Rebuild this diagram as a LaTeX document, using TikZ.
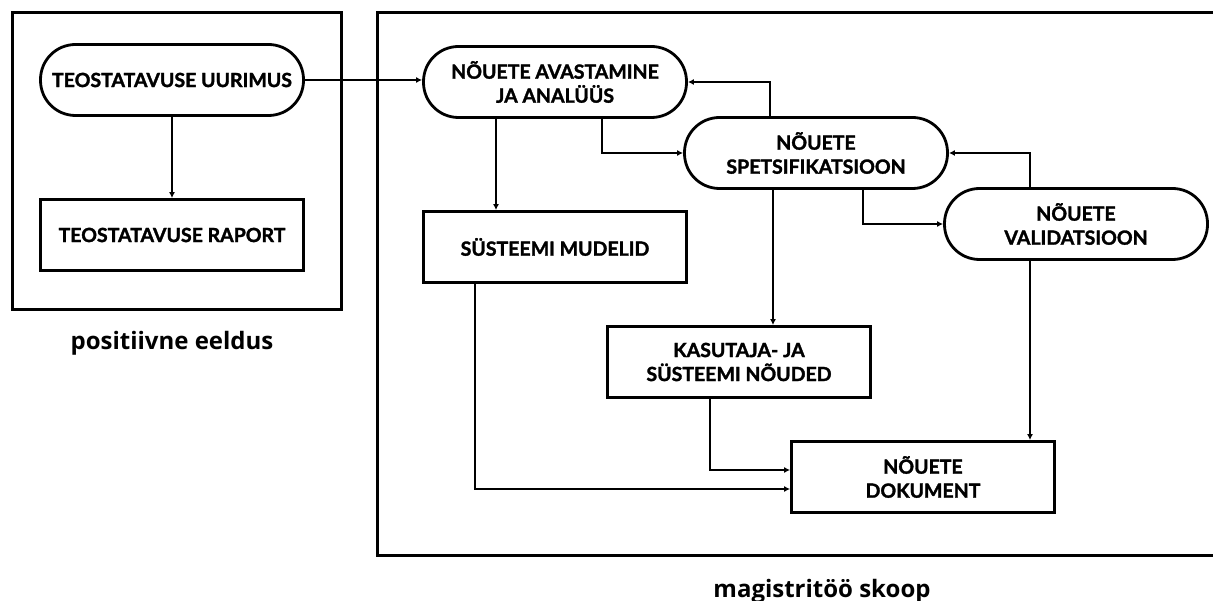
\documentclass[tikz,border=0pt]{standalone}
\usepackage{fontspec}
\usetikzlibrary{arrows.meta}
\newfontfamily\boxfont{Lato}[BoldFeatures={FakeBold=1.6}]
\newfontfamily\lblfont{Open Sans}
\begin{document}
\begin{tikzpicture}[x=1pt,y=-1pt,
  frame/.style={line width=3pt},
  base/.style={draw,line width=2.8pt,inner sep=2pt,align=center,
    font=\boxfont\bfseries\fontsize{19.5}{24}\selectfont},
  pill/.style={base,rounded corners=35pt,minimum width=263pt,minimum height=71pt},
  boxnode/.style={base,minimum width=263pt,minimum height=71pt},
  conn/.style={line width=2.5pt,-{Latex[length=6pt,width=6pt]}},
  caption/.style={font=\lblfont\bfseries\fontsize{24}{28}\selectfont,anchor=base}]
\useasboundingbox (0,0) rectangle (1213,601);
\fill[white] (0,0) rectangle (1213,601);

% group frames
\draw[frame] (12,13) rectangle (341,310);
\draw[frame] (1214,13) -- (377,13) -- (377,555) -- (1214,555);

% feasibility part
\node[pill] (TU) at (172,80) {TEOSTATAVUSE UURIMUS};
\node[boxnode] (TR) at (172,235) {TEOSTATAVUSE RAPORT};

% requirements engineering part
\node[pill] (NA) at (555,82) {NÕUETE AVASTAMINE\\JA ANALÜÜS};
\node[pill] (NS) at (816,153) {NÕUETE\\SPETSIFIKATSIOON};
\node[pill] (NV) at (1076,224) {NÕUETE\\VALIDATSIOON};
\node[boxnode] (SM) at (555,247) {SÜSTEEMI MUDELID};
\node[boxnode] (KS) at (739,362) {KASUTAJA- JA\\SÜSTEEMI NÕUDED};
\node[boxnode] (ND) at (923,477) {NÕUETE\\DOKUMENT};

% captions
\node[caption] (capL) at (172,350) {positiivne eeldus};
\node[caption] (capR) at (822,597) {magistritöö skoop};

% connectors
\draw[conn] (TU.south) -- (TR.north);
\draw[conn] (TU.east) -- (TU.east -| NA.west);
\draw[conn] ([xshift=-59pt]NA.south) -- ([xshift=-59pt]SM.north);
\draw[conn] ([xshift=47pt]NA.south) |- (NS.west);
\draw[conn] ([xshift=-46pt]NS.north) |- (NA.east);
\draw[conn] ([xshift=47pt]NS.south) |- (NV.west);
\draw[conn] ([xshift=-46pt]NV.north) |- (NS.east);
\draw[conn] ([xshift=-43pt]NS.south) -- ([xshift=-43pt]NS.south |- KS.north);
\draw[conn] ([xshift=-46pt]NV.south) -- ([xshift=-46pt]NV.south |- ND.north);
\draw[conn] ([xshift=-29pt]KS.south) |- ([yshift=7pt]ND.west);
\draw[conn] ([xshift=-80pt]SM.south) |- ([yshift=-12pt]ND.west);
\end{tikzpicture}
\end{document}
